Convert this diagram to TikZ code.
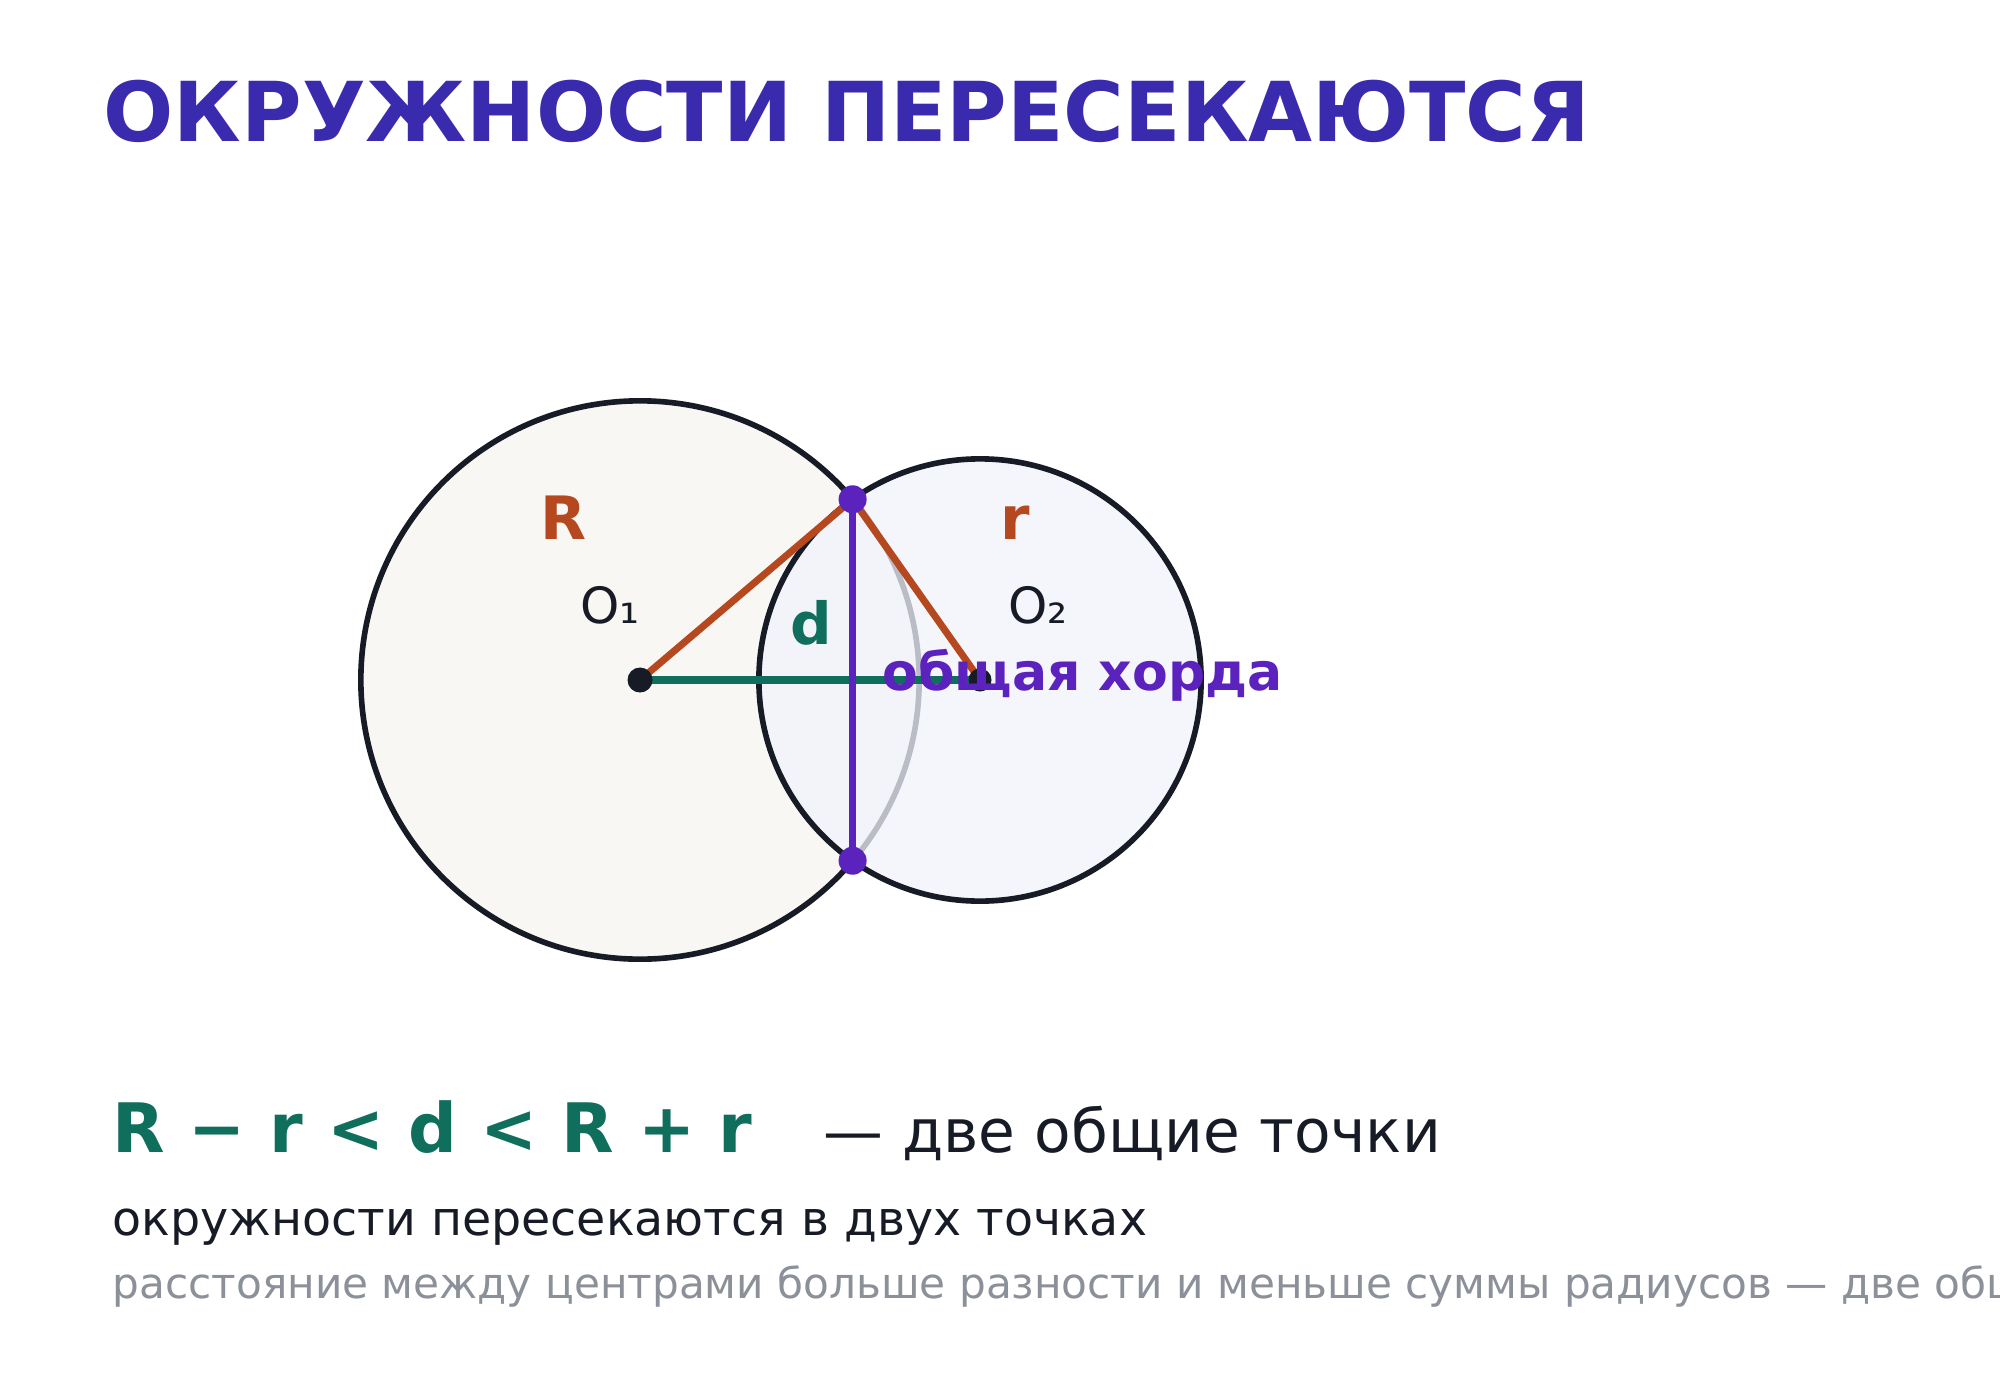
\documentclass[tikz,border=0pt]{standalone}
\usepackage{fontspec}
\setmainfont{DejaVu Sans}

\definecolor{titleblue}{HTML}{3A2AAE}
\definecolor{ink}{HTML}{161B26}
\definecolor{rust}{HTML}{B5481F}
\definecolor{sea}{HTML}{0F6E5C}
\definecolor{violet}{HTML}{5B22BE}
\definecolor{mute}{HTML}{8B9099}
\definecolor{paperA}{HTML}{F8F7F3}
\definecolor{paperB}{HTML}{F2F4FC}

\tikzset{
  rim/.style={line width=1.6pt, draw=ink},
  seg/.style={line width=2pt},
  dot/.style={circle, inner sep=0pt, minimum size=#1},
  lbl/.style={inner sep=0pt, anchor=base}
}

\begin{document}
\begin{tikzpicture}[x=0.01cm, y=-0.01cm, line cap=round]

\useasboundingbox[fill=white] (0,0) rectangle (2000,1400);

\node[lbl, anchor=base west, text=titleblue, font=\fontsize{23.5}{28}\selectfont\bfseries] (title) at (103,142) {ОКРУЖНОСТИ ПЕРЕСЕКАЮТСЯ};

% circles
\draw[rim, fill=paperA] (640,680) circle [radius=2.79cm];
\draw[rim, fill=paperB, fill opacity=.75] (980,680) circle [radius=2.21cm];

\coordinate (O1) at (640,680);
\coordinate (O2) at (980,680);
\coordinate (P) at (852.6,499.3);
\coordinate (Q) at (852.6,860.7);

\draw[sea, seg] (O1)--(O2);
\draw[rust, seg] (O1)--(P)--(O2);
\draw[violet, seg] (P)--(Q);

\node[dot=0.25cm, fill=ink] (o1) at (O1) {};
\node[dot=0.23cm, fill=ink] (o2) at (O2) {};
\node[dot=0.28cm, fill=violet] (p) at (P) {};
\node[dot=0.28cm, fill=violet] (q) at (Q) {};

\node[lbl, text=rust, font=\fontsize{17}{20}\selectfont\bfseries] (lR) at (564,539) {R};
\node[lbl, text=rust, font=\fontsize{17}{20}\selectfont\bfseries] (lr) at (1015,539) {r};
\node[lbl, text=ink, font=\fontsize{14.2}{17}\selectfont] (lO1) at (610,623) {O₁};
\node[lbl, text=ink, font=\fontsize{14.2}{17}\selectfont] (lO2) at (1038,623) {O₂};
\node[lbl, text=sea, font=\fontsize{16.5}{20}\selectfont\bfseries] (ld) at (811,644) {d};
\node[lbl, anchor=base west, text=violet, font=\fontsize{14.8}{18}\selectfont\bfseries] (chord) at (882,690) {общая хорда};

% bottom text
\node[lbl, anchor=base west, text=sea, font=\fontsize{19.4}{23}\selectfont\bfseries] (rule) at (112,1152) {R − r < d < R + r};
\node[lbl, anchor=base west, text=ink, font=\fontsize{17}{21}\selectfont] (two) at (823,1152) {— две общие точки};
\node[lbl, anchor=base west, text=ink, font=\fontsize{13.5}{16}\selectfont] (sub) at (112,1235) {окружности пересекаются в двух точках};
\node[lbl, anchor=base west, text=mute, font=\fontsize{12}{15}\selectfont] (note) at (112,1298) {расстояние между центрами больше разности и меньше суммы радиусов — две общие точки};

\end{tikzpicture}
\end{document}
